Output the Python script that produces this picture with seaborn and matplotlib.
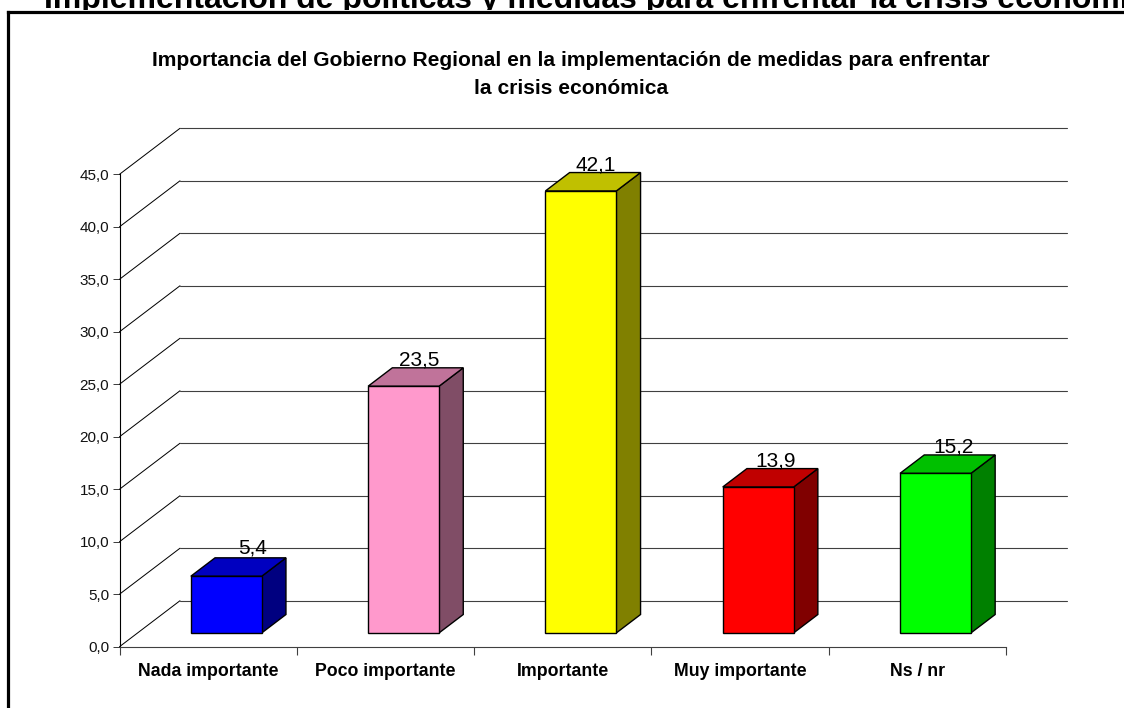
import numpy as np
import matplotlib
matplotlib.use("Agg")
import matplotlib.pyplot as plt
import matplotlib.transforms as mtrans
from matplotlib.lines import Line2D
from matplotlib.patches import Polygon
import seaborn as sns

categories = ["Nada importante", "Poco importante", "Importante", "Muy importante", "Ns / nr"]
values = [5.4, 23.5, 42.1, 13.9, 15.2]
value_labels = ["5,4", "23,5", "42,1", "13,9", "15,2"]
yticks = [0, 5, 10, 15, 20, 25, 30, 35, 40, 45]
ytick_labels = ["0,0", "5,0", "10,0", "15,0", "20,0", "25,0", "30,0", "35,0", "40,0", "45,0"]
front_colors = ["#0000FF", "#FF99CC", "#FFFF00", "#FF0000", "#00FF00"]
side_colors = ["#000080", "#804D66", "#808000", "#800000", "#008000"]
top_colors = ["#0000C0", "#C0739A", "#C0C000", "#C00000", "#00C000"]
label_nudge_x = [12, 1.5, 1, 3, 4]
label_nudge_y = [4, 2, 2, 2, 2]

heading = "Implementación de políticas y medidas para enfrentar la crisis económica"
title = ("Importancia del Gobierno Regional en la implementación de medidas para enfrentar\n"
         "la crisis económica")

W, H = 1124, 708

sns.set_style("white")
plt.rcParams["font.family"] = ["Liberation Sans", "DejaVu Sans"]

fig = plt.figure(figsize=(W / 100, H / 100), dpi=100)
ax = fig.add_axes([119.5 / W, 1 - 646.7 / H, (1006 - 119.5) / W, (646.7 - 174.3) / H])

sns.barplot(x=categories, y=values, hue=categories, palette=front_colors, width=0.4,
            edgecolor="black", linewidth=1.0, legend=False, saturation=1, zorder=3, ax=ax)

ax.set_xlim(-0.5, 4.5)
ax.set_ylim(0, 45)

# depth of the fake 3d floor, in data units
depth_x = 60.5 / 177.3
depth_y = 46.0 / 10.5
bar_start = 0.3
bar_end = 0.7

# back wall and the diagonals going to it
for v in yticks:
    ax.plot([-0.5, -0.5 + depth_x], [v, v + depth_y], color="black", lw=0.72, clip_on=False, zorder=1)
    ax.plot([-0.5 + depth_x, 4.5 + depth_x], [v + depth_y, v + depth_y], color="#404040", lw=0.8,
            clip_on=False, zorder=1)

# front faces move back onto the floor, sides and tops are added behind them
shift = mtrans.Affine2D().translate(bar_start * depth_x, bar_start * depth_y) + ax.transData
bars = sorted(ax.patches, key=lambda p: p.get_x())
for i, p in enumerate(bars):
    p.set_transform(shift)
    p.set_clip_on(False)
    x0 = p.get_x() + bar_start * depth_x
    x1 = x0 + p.get_width()
    y0 = bar_start * depth_y
    y1 = y0 + p.get_height()
    dx = (bar_end - bar_start) * depth_x
    dy = (bar_end - bar_start) * depth_y
    ax.add_patch(Polygon([(x1, y0), (x1 + dx, y0 + dy), (x1 + dx, y1 + dy), (x1, y1)], closed=True,
                         facecolor=side_colors[i], edgecolor="black", lw=1.0, clip_on=False, zorder=2))
    ax.add_patch(Polygon([(x0, y1), (x0 + dx, y1 + dy), (x1 + dx, y1 + dy), (x1, y1)], closed=True,
                         facecolor=top_colors[i], edgecolor="black", lw=1.0, clip_on=False, zorder=2))
    ax.annotate(value_labels[i], xy=((x0 + x1) / 2, y1 + dy), xytext=(label_nudge_x[i] + 14, label_nudge_y[i]),
                textcoords="offset pixels", ha="center", va="baseline", fontsize=15,
                color="black", zorder=4, annotation_clip=False)

for side in ["top", "right"]:
    ax.spines[side].set_visible(False)
ax.spines["left"].set_color("black")
ax.spines["left"].set_linewidth(0.8)
ax.spines["bottom"].set_color("#404040")
ax.spines["bottom"].set_linewidth(0.8)

ax.set_yticks(yticks)
ax.set_yticklabels(ytick_labels, fontsize=11, color="#111111")
ax.tick_params(axis="y", left=True, length=5.4, width=0.72, color="#404040", pad=2)
ax.set_xticks(range(5))
ax.set_xticklabels(categories, fontsize=12.8, fontweight="bold", color="black")
ax.tick_params(axis="x", which="major", bottom=False, pad=8)
ax.set_xticks(np.arange(-0.5, 5, 1), minor=True)
ax.tick_params(axis="x", which="minor", bottom=True, length=5.8, width=0.8, color="#404040")
ax.set_xlabel("")
ax.set_ylabel("")

fig.text(571 / W, 1 - 74.5 / H, title, ha="center", va="center", fontsize=15.1, fontweight="bold",
         linespacing=1.62, color="black")
# the big heading is cut by the slide edge and the frame in the original
head = fig.text(44 / W, 1 - 8 / H, heading, ha="left", va="baseline", fontsize=23, fontweight="bold",
                color="black")
head.set_clip_box(mtrans.Bbox([[0, H - 10], [W, H]]))
head.set_clip_on(True)

# frame round the slide, open at right and bottom
fig.add_artist(Line2D([7.5 / W, 7.5 / W], [0, 1 - 11.5 / H], color="black", lw=2.3, solid_capstyle="projecting"))
fig.add_artist(Line2D([7.5 / W, 1], [1 - 11.5 / H, 1 - 11.5 / H], color="black", lw=2.3, solid_capstyle="projecting"))

fig.savefig("out.png", dpi=100)
